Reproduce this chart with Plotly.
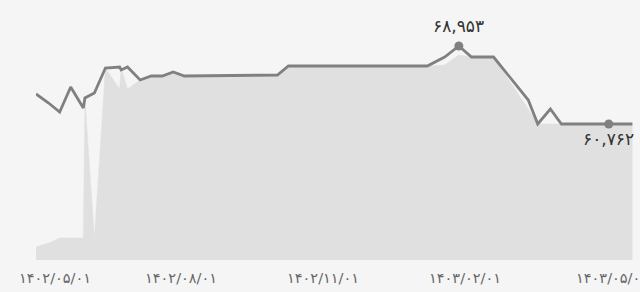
import plotly.graph_objects as go

# x: days since 1402/05/01
days = [0, 8, 15, 22, 30, 31, 37, 44, 53, 54, 58, 66, 73, 80, 87, 94, 153, 160,
        248, 259, 268, 276, 290, 312, 318, 326, 333, 363, 378]
line_values = [63912, 62967, 62022, 64647, 62442, 63492, 64017, 66642, 66747, 66432,
               66747, 65382, 65802, 65802, 66222, 65802, 65907, 66852,
               66852, 67797, 68953, 67797, 67797, 63282, 60762, 62337, 60762, 60762, 60762]
area_values = [47847, 48267, 48792, 48792, 48792, 63492, 48792, 66642, 64437, 66642,
               64437, 65382, 65802, 65802, 66222, 65802, 65907, 66852,
               66852, 66957, 68007, 67797, 67797, 62337, 60762, 60762, 60762, 60762, 60762]
tick_days = [0, 92, 182, 272, 365]
tick_labels = ["۱۴۰۲/۰۵/۰۱", "۱۴۰۲/۰۸/۰۱", "۱۴۰۲/۱۱/۰۱", "۱۴۰۳/۰۲/۰۱", "۱۴۰۳/۰۵/۰۱"]
marked_last_index = 27

BG = "#f5f5f5"
LINE = "#808080"
AREA = "#e0e0e0"
FONT = "DejaVu Sans"

def fa_num(v):
    s = f"{v:,}"
    return s.translate(str.maketrans("0123456789", "۰۱۲۳۴۵۶۷۸۹"))

max_i = line_values.index(max(line_values))

fig = go.Figure()
fig.add_trace(go.Scatter(x=days, y=area_values, mode="lines", fill="tozeroy",
                         fillcolor=AREA, line=dict(color=AREA, width=0.5),
                         hoverinfo="skip", showlegend=False))
fig.add_trace(go.Scatter(x=days, y=line_values, mode="lines",
                         line=dict(color=LINE, width=2.8), showlegend=False))
mk = [max_i, marked_last_index]
fig.add_trace(go.Scatter(x=[days[i] for i in mk], y=[line_values[i] for i in mk],
                         mode="markers", marker=dict(color=LINE, size=9),
                         showlegend=False))

annotations = []
annotations.append(dict(x=days[max_i], y=line_values[max_i], xref="x", yref="y",
                        text=fa_num(line_values[max_i]), showarrow=False,
                        yshift=20, font=dict(family=FONT, size=17, color="#333333")))
annotations.append(dict(x=days[marked_last_index], y=line_values[marked_last_index],
                        xref="x", yref="y", text=fa_num(line_values[marked_last_index]),
                        showarrow=False, yshift=-15,
                        font=dict(family=FONT, size=17, color="#333333")))
for i, (d, lab) in enumerate(zip(tick_days, tick_labels)):
    annotations.append(dict(x=d, y=0, xref="x", yref="paper", text=lab,
                            showarrow=False, yanchor="middle", yshift=-18,
                            xshift=19 if i == 0 else 0,
                            font=dict(family=FONT, size=14.5, color="#666666")))

fig.update_layout(
    width=640, height=292,
    margin=dict(l=36, r=6, t=0, b=32),
    paper_bgcolor=BG, plot_bgcolor=BG,
    xaxis=dict(range=[0, 379], showgrid=False, zeroline=False, showticklabels=False,
               showline=False, ticks=""),
    yaxis=dict(range=[46481, 73783], showgrid=False, zeroline=False,
               showticklabels=False, showline=False, ticks=""),
    annotations=annotations,
    hovermode=False,
)
fig.write_html("out.html", config={"displayModeBar": False},
               post_script="document.body.style.margin='0';document.body.style.background='#f5f5f5';document.body.style.overflow='hidden';")
